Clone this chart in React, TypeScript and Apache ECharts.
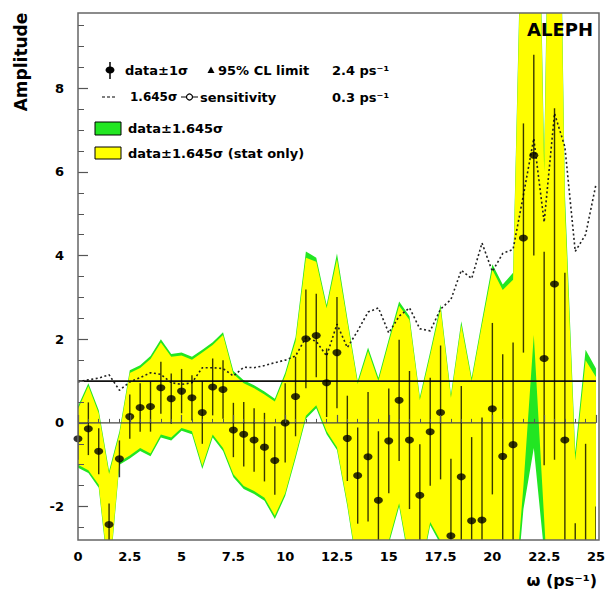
import { useEffect, useRef } from "react";
import * as echarts from "echarts";

// Oscillation frequency scan points (ps^-1)
const omega = [
  0, 0.5, 1, 1.5, 2, 2.5, 3, 3.5, 4, 4.5, 5, 5.5, 6, 6.5, 7, 7.5, 8, 8.5, 9, 9.5,
  10, 10.5, 11, 11.5, 12, 12.5, 13, 13.5, 14, 14.5, 15, 15.5, 16, 16.5, 17, 17.5,
  18, 18.5, 19, 19.5, 20, 20.5, 21, 21.5, 22, 22.5, 23, 23.5, 24, 24.5, 25,
];

// Measured amplitude at each frequency
const amplitude = [
  -0.38, -0.14, -0.68, -2.43, -0.86, 0.15, 0.37, 0.39, 0.84, 0.58, 0.76, 0.6, 0.25,
  0.86, 0.8, -0.17, -0.27, -0.41, -0.58, -0.9, 0.0, 0.63, 2.01, 2.09, 0.96, 1.68,
  -0.37, -1.26, -0.81, -1.85, -0.43, 0.54, -0.41, -1.73, -0.21, 0.25, -2.7, -1.29,
  -2.34, -2.32, 0.34, -0.8, -0.52, 4.42, 6.4, 1.54, 3.32, -0.41, -5.0, -3.5, -4.5,
];

// 1 sigma uncertainty on the amplitude
const errorBar = [
  0.5, 0.63, 0.55, 0.5, 0.44, 0.53, 0.58, 0.6, 0.62, 0.6, 0.53, 0.54, 0.75, 0.68,
  0.7, 0.65, 0.77, 0.76, 0.82, 0.82, 0.95, 0.95, 1.18, 1.0, 0.82, 1.33, 1.02, 1.15,
  1.55, 1.65, 1.25, 1.45, 1.65, 1.22, 1.29, 1.6, 1.84, 2.17, 2.0, 2.45, 2.05, 2.44,
  2.44, 2.74, 2.4, 2.55, 4.2, 4.0, 2.6, 3.0, 2.5,
];

// 1.645 sigma sensitivity curve
const sensitivity = [
  0.98, 1.03, 1.07, 1.15, 0.78, 0.98, 1.08, 1.2, 1.16, 0.96,
  0.92, 0.96, 1.32, 1.32, 1.3, 1.12, 1.33, 1.32, 1.37, 1.44,
  1.5, 1.6, 2.04, 1.95, 1.6, 2.36, 1.8, 2.2, 2.65, 2.75,
  2.15, 2.55, 2.75, 2.25, 2.2, 2.72, 2.95, 3.65, 3.45, 4.3,
  3.62, 4.05, 4.15, 5.45, 6.8, 4.8, 7.4, 6.6, 4.1, 4.5,
  5.7,
];

// data ± 1.645 sigma (total)
const totalUpper = [
  0.4, 0.95, 0.3, -1.15, -0.2, 1.26, 1.38, 1.6, 2.0, 1.65, 1.68, 1.58, 1.75, 1.93,
  2.17, 1.24, 1.02, 0.9, 0.75, 0.58, 1.2, 2.05, 4.1, 3.95, 2.82, 4.05, 2.5, 1.0, 1.8,
  1.08, 2.0, 2.9, 2.55, 0.62, 1.7, 2.83, 0.68, 2.43, 1.08, 2.45, 3.79, 3.31, 3.59,
  14.3, 19.8, 6.3, 22, 5.5, -0.7, 1.75, 1.3,
];
const totalLower = [
  -1.07, -1.2, -1.55, -3.8, -1.0, -0.85, -0.67, -0.8, -0.35, -0.42, -0.19, -0.27,
  -1.1, -0.35, -0.67, -1.3, -1.58, -1.7, -1.86, -2.3, -1.75, -0.85, 0.1, 0.35, -0.27,
  -0.65, -2.0, -3.6, -4.5, -5.0, -2.9, -2.0, -3.4, -3.7, -2.45, -2.9, -6.0, -5.5,
  -6.5, -6.5, -5.5, -5.5, -4.9, -2.06, -0.6, -3.1, -7.0, -7.0, -9.0, -9.0, -9.0,
];

// data ± 1.645 sigma (statistical only)
const statUpper = [
  0.33, 0.88, 0.23, -1.22, -0.27, 1.19, 1.31, 1.53, 1.92, 1.58, 1.61, 1.51, 1.68,
  1.86, 2.1, 1.17, 0.95, 0.83, 0.68, 0.51, 1.13, 1.95, 3.95, 3.85, 2.74, 3.92, 2.42,
  0.93, 1.72, 1.0, 1.92, 2.8, 2.46, 0.55, 1.62, 2.74, 0.6, 2.34, 1.0, 2.35, 3.66,
  3.18, 3.42, 14.0, 19.5, 6.0, 21.5, 5.2, -0.9, 1.5, 1.1,
];
const statLower = [
  -1.0, -1.13, -1.48, -3.7, -0.93, -0.78, -0.6, -0.73, -0.28, -0.35, -0.12, -0.2,
  -1.03, -0.28, -0.6, -1.23, -1.51, -1.63, -1.79, -2.22, -1.68, -0.78, 0.17, 0.42,
  -0.2, -0.58, -1.93, -3.5, -4.4, -4.9, -2.82, -1.92, -3.3, -3.6, -2.37, -2.82, -5.9,
  -5.4, -6.4, -6.4, -5.4, -5.4, -4.6, -1.5, 2.1, -2.3, -6.8, -6.8, -8.8, -8.8, -8.8,
];

// Horizontal reference levels
const referenceLevels = [0, 1];

// Axis ticks
const xTicks = [0, 2.5, 5, 7.5, 10, 12.5, 15, 17.5, 20, 22.5, 25];
const yTicks = [-2, 0, 2, 4, 6, 8];
const yMinorTicks = [
  -2.5, -1.5, -1, -0.5, 0.5, 1, 1.5, 2.5, 3, 3.5, 4.5, 5, 5.5, 6.5, 7, 7.5, 8.5, 9, 9.5,
];

const FONT = "DejaVu Sans";
const GREEN = "#22e622";
const YELLOW = "#ffff00";
const AXIS_GREY = "#666666";

function bandSeries(upper: number[], lower: number[], color: string, z: number) {
  return {
    type: "custom",
    z,
    clip: true,
    silent: true,
    data: [[0, 0]],
    renderItem: (_params: any, api: any) => {
      const pts: number[][] = [];
      omega.forEach((w, i) => pts.push(api.coord([w, upper[i]])));
      for (let i = omega.length - 1; i >= 0; i--) pts.push(api.coord([omega[i], lower[i]]));
      return {
        type: "polygon",
        shape: { points: pts },
        style: { fill: color, stroke: null },
      };
    },
  };
}

const textStyle = (size: number) => ({
  fill: "#000",
  fontFamily: FONT,
  fontWeight: "bold",
  fontSize: size,
  verticalAlign: "middle",
  align: "left",
});

function buildOption(): any {
  const xMin = omega[0];
  const xMax = omega[omega.length - 1];
  return {
    animation: false,
    backgroundColor: "#ffffff",
    grid: { left: 78, right: 9, top: 13, bottom: 54, show: false },
    xAxis: [
      {
        type: "value",
        min: xMin,
        max: xMax,
        interval: 2.5,
        z: 10,
        axisLine: { show: false },
        axisTick: {
          show: true,
          inside: true,
          length: 8,
          lineStyle: { color: "#555", width: 1.2 },
        },
        minorTick: {
          show: true,
          splitNumber: 5,
          length: 4,
          lineStyle: { color: "#555", width: 1 },
        },
        axisLabel: {
          margin: 10,
          color: "#000",
          fontWeight: "bold",
          fontSize: 13,
          fontFamily: FONT,
          customValues: xTicks,
          formatter: (v: number) => String(v),
        },
        splitLine: { show: false },
        minorSplitLine: { show: false },
      },
    ],
    yAxis: [
      {
        type: "value",
        min: -2.8,
        max: 9.8,
        position: "left",
        z: 10,
        axisLine: { show: false },
        axisTick: {
          show: true,
          inside: true,
          length: 10,
          customValues: yTicks,
          lineStyle: { color: "#555", width: 1.2 },
        },
        axisLabel: {
          customValues: yTicks,
          margin: 14,
          color: "#000",
          fontWeight: "bold",
          fontSize: 13,
          fontFamily: FONT,
        },
        splitLine: { show: false },
      },
      {
        type: "value",
        min: -2.8,
        max: 9.8,
        position: "left",
        offset: 0,
        z: 10,
        axisLine: { show: false },
        axisTick: {
          show: true,
          inside: true,
          length: 6,
          customValues: yMinorTicks,
          lineStyle: { color: "#555", width: 1 },
        },
        axisLabel: { show: false },
        splitLine: { show: false },
      },
    ],
    series: [
      bandSeries(totalUpper, totalLower, GREEN, 1),
      bandSeries(statUpper, statLower, YELLOW, 2),
      {
        type: "line",
        z: 3,
        silent: true,
        symbol: "none",
        clip: true,
        data: omega.map((w, i) => [w, sensitivity[i]]),
        lineStyle: { color: "#222", width: 1.6, type: [2, 2.5] },
      },
      ...referenceLevels.map((lvl) => ({
        type: "line",
        z: 3,
        silent: true,
        symbol: "none",
        data: [
          [xMin, lvl],
          [xMax, lvl],
        ],
        lineStyle: { color: lvl === 1 ? "#111" : "#444", width: lvl === 1 ? 1.7 : 1.2 },
      })),
      {
        type: "custom",
        z: 4,
        clip: true,
        silent: true,
        data: omega.map((w, i) => [w, amplitude[i] - errorBar[i], amplitude[i] + errorBar[i]]),
        renderItem: (_params: any, api: any) => {
          const lo = api.coord([api.value(0), api.value(1)]);
          const hi = api.coord([api.value(0), api.value(2)]);
          return {
            type: "line",
            shape: { x1: lo[0], y1: lo[1], x2: hi[0], y2: hi[1] },
            style: { stroke: "rgba(0,0,0,0.78)", lineWidth: 1.4 },
          };
        },
      },
      {
        type: "scatter",
        z: 5,
        silent: true,
        clip: true,
        symbol: "circle",
        symbolSize: [9, 7],
        itemStyle: { color: "#000" },
        data: omega.map((w, i) => [w, amplitude[i]]),
      },
    ],
    graphic: [
      // plot frame
      {
        type: "rect",
        z: 50,
        silent: true,
        shape: { x: 78, y: 13, width: 521, height: 527 },
        style: { fill: "none", stroke: AXIS_GREY, lineWidth: 1.5 },
      },
      {
        type: "text",
        z: 60,
        x: 593,
        y: 29,
        style: { ...textStyle(18), text: "ALEPH", align: "right" },
      },
      {
        type: "text",
        z: 60,
        x: 21,
        y: 62,
        rotation: Math.PI / 2,
        style: { ...textStyle(17), text: "Amplitude", align: "center" },
      },
      {
        type: "text",
        z: 60,
        x: 597,
        y: 580,
        style: { ...textStyle(16), text: "ω (ps⁻¹)", align: "right" },
      },
      // legend, row 1
      {
        type: "line",
        z: 60,
        shape: { x1: 110, y1: 62, x2: 110, y2: 79 },
        style: { stroke: "#000", lineWidth: 1.5 },
      },
      {
        type: "ellipse",
        z: 60,
        shape: { cx: 110, cy: 70, rx: 4.5, ry: 3.5 },
        style: { fill: "#000" },
      },
      { type: "text", z: 60, x: 125, y: 70, style: { ...textStyle(13), text: "data±1σ" } },
      {
        type: "polygon",
        z: 60,
        shape: {
          points: [
            [207.5, 73],
            [214.5, 73],
            [211, 66.5],
          ],
        },
        style: { fill: "#000" },
      },
      { type: "text", z: 60, x: 218, y: 70, style: { ...textStyle(13), text: "95% CL limit" } },
      { type: "text", z: 60, x: 332, y: 70, style: { ...textStyle(13), text: "2.4 ps⁻¹" } },
      // legend, row 2
      {
        type: "line",
        z: 60,
        shape: { x1: 102, y1: 97, x2: 117, y2: 97 },
        style: { stroke: "#000", lineWidth: 1.2, lineDash: [3, 2] },
      },
      { type: "text", z: 60, x: 130, y: 97, style: { ...textStyle(12), text: "1.645σ" } },
      {
        type: "line",
        z: 60,
        shape: { x1: 181, y1: 97, x2: 198, y2: 97 },
        style: { stroke: "#000", lineWidth: 1 },
      },
      {
        type: "circle",
        z: 61,
        shape: { cx: 189.5, cy: 97, r: 3 },
        style: { fill: "#fff", stroke: "#000", lineWidth: 1.2 },
      },
      { type: "text", z: 60, x: 200, y: 97, style: { ...textStyle(13), text: "sensitivity" } },
      { type: "text", z: 60, x: 332, y: 97, style: { ...textStyle(13), text: "0.3 ps⁻¹" } },
      // legend, rows 3 and 4
      {
        type: "rect",
        z: 60,
        shape: { x: 95, y: 122, width: 26, height: 13 },
        style: { fill: GREEN, stroke: "#000", lineWidth: 1 },
      },
      { type: "text", z: 60, x: 128, y: 128.5, style: { ...textStyle(13), text: "data±1.645σ" } },
      {
        type: "rect",
        z: 60,
        shape: { x: 95, y: 147, width: 26, height: 12 },
        style: { fill: YELLOW, stroke: "#000", lineWidth: 1 },
      },
      {
        type: "text",
        z: 60,
        x: 128,
        y: 153,
        style: { ...textStyle(13), text: "data±1.645σ (stat only)" },
      },
    ],
  };
}

export default function App() {
  const ref = useRef<HTMLDivElement>(null);
  useEffect(() => {
    if (!ref.current) return;
    const chart = echarts.init(ref.current, null, { renderer: "svg" });
    chart.setOption(buildOption());
    return () => chart.dispose();
  }, []);
  return (
    <div
      ref={ref}
      style={{
        position: "fixed",
        left: 0,
        top: 0,
        width: 608,
        height: 594,
        background: "#ffffff",
      }}
    />
  );
}
